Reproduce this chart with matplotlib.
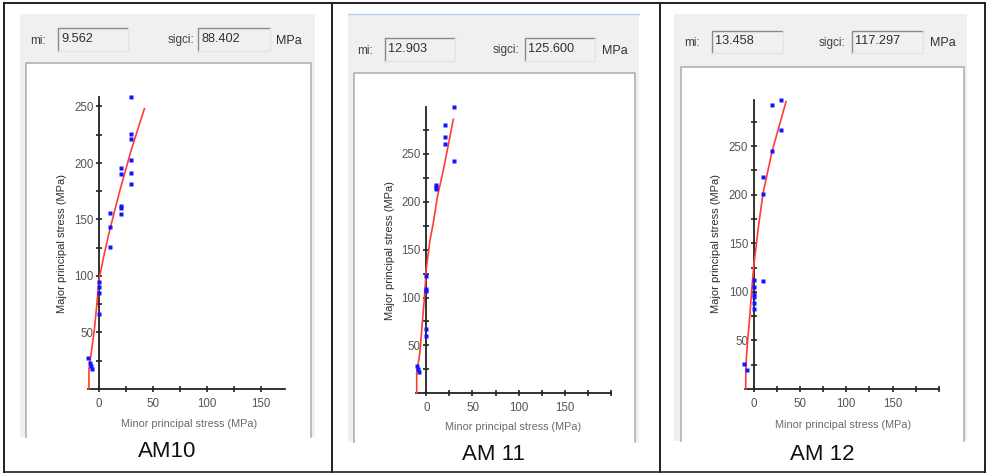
import matplotlib
matplotlib.use("Agg")
import matplotlib.pyplot as plt
from matplotlib.patches import Rectangle
from matplotlib.ticker import FixedLocator

plt.rcParams['font.family'] = ['Liberation Sans', 'DejaVu Sans']

# ---------------- data ----------------
captions = ["AM10", "AM 11", "AM 12"]
mi_values = ["9.562", "12.903", "13.458"]
sigci_values = ["88.402", "125.600", "117.297"]

am10_sig3 = [30, 30, 30, 30, 30, 30, 20, 20, 20, 20, 20, 10, 10, 10, 0, 0, 0, 0, -10.5, -8.5, -7, -6.5]
am10_sig1 = [258, 226, 221, 203, 191, 181, 196, 190, 162, 160, 155, 156, 143, 126, 95, 90, 85, 66, 27, 23, 20, 18]
am10_fit_sig3 = [-9.3, -9.3, -8, -6, -4, -2, 0, 5, 10, 20, 30, 42]
am10_fit_sig1 = [0, 17, 27, 40, 55, 75, 97, 120, 141, 178, 212, 248]

am11_sig3 = [30, 20, 20, 20, 30, 10, 10, 10, 0, 0, 0, 0, 0, -10.5, -9, -8]
am11_sig1 = [299, 280, 268, 260, 242, 217, 215, 213, 122, 109, 107, 67, 60, 29, 25, 22]
am11_fit_sig3 = [-10.4, -10.4, -9, -7, -5, -2, 0, 4, 7.6, 12, 18.4, 24, 29.2]
am11_fit_sig1 = [0, 22, 30, 42, 66, 100, 130, 160, 178, 205, 233, 260, 286]

am12_sig3 = [30, 20, 30, 20, 10, 10, 10, 0, 0, 0, 0, 0, 0, -10, -7.5]
am12_sig1 = [297, 292, 266, 245, 218, 201, 111, 112, 105, 98, 95, 88, 82, 26, 20]
am12_fit_sig3 = [-8.6, -8.6, -8, -6.5, -4, -2, 0, 5, 10, 20, 30, 34.9]
am12_fit_sig1 = [0, 12, 30, 50, 78, 103, 126, 166, 201, 245, 279, 295.6]

x_major = [0, 50, 100, 150]
y_major = [50, 100, 150, 200, 250]

# ---------------- layout (pixels) ----------------
W, H = 987, 473
fig = plt.figure(figsize=(W / 100, H / 100), dpi=100)
bg = fig.add_axes([0, 0, 1, 1])
bg.set_xlim(0, W)
bg.set_ylim(H, 0)
bg.axis('off')

# table borders
lc = '#202020'
bg.plot([4, 985], [3.5, 3.5], color=lc, lw=1.4)
bg.plot([4, 985], [471.5, 471.5], color=lc, lw=1.2)
for xx in [4, 332, 660, 985]:
    bg.plot([xx, xx], [3.5, 471.5], color=lc, lw=1.4)

panels = [
    dict(gray=(20, 14, 315, 437), box1=(58, 28, 128, 51), box2=(198, 28, 270, 51),
         mi_x=30, sig_x=194, mpa_x=276, plot=(26, 63, 311, 437),
         x0=99, sx=1.08, y0=389, sy=1.13, xb=(-10, 172), yb=(0, 258), xtmax=150, ytmax=250,
         ylab=(62, 243), xlab=(189, 424), cap=(167, 451),
         s3=am10_sig3, s1=am10_sig1, f3=am10_fit_sig3, f1=am10_fit_sig1),
    dict(gray=(348, 14, 639, 442), box1=(385, 38, 455, 61), box2=(525, 38, 595, 61),
         mi_x=357, sig_x=519, mpa_x=602, plot=(354, 73, 635, 442),
         x0=426.3, sx=0.924, y0=393.3, sy=0.958, xb=(-11, 200), yb=(0, 299), xtmax=200, ytmax=275,
         ylab=(390, 250), xlab=(513, 427), cap=(493, 454),
         s3=am11_sig3, s1=am11_sig1, f3=am11_fit_sig3, f1=am11_fit_sig1),
    dict(gray=(674, 14, 967, 441), box1=(712, 31, 783, 53), box2=(852, 31, 923, 53),
         mi_x=684, sig_x=845, mpa_x=930, plot=(681, 67, 964, 441),
         x0=753.7, sx=0.926, y0=389, sy=0.972, xb=(-9, 200), yb=(0, 297), xtmax=200, ytmax=275,
         ylab=(716, 243), xlab=(843, 425), cap=(822, 454),
         s3=am12_sig3, s1=am12_sig1, f3=am12_fit_sig3, f1=am12_fit_sig1),
]

txt_c = '#303030'
for i, p in enumerate(panels):
    gx0, gy0, gx1, gy1 = p['gray']
    bg.add_patch(Rectangle((gx0, gy0), gx1 - gx0, gy1 - gy0, facecolor='#f0f0f0', edgecolor='none'))
    if i == 1:
        bg.plot([gx0, gx1], [gy0, gy0], color='#b8d0ec', lw=1.0)
    # text boxes
    for key, val in (('box1', mi_values[i]), ('box2', sigci_values[i])):
        bx0, by0, bx1, by1 = p[key]
        bg.add_patch(Rectangle((bx0, by0), bx1 - bx0, by1 - by0, facecolor='#f0f0f0', edgecolor='none'))
        bg.plot([bx0, bx0, bx1], [by1, by0, by0], color='#8a8a8a', lw=1.0)
        bg.plot([bx0, bx1, bx1], [by1, by1, by0], color='#e4e4e4', lw=1.0)
        bg.text(bx0 + 3, (by0 + by1) / 2 - 1, val, fontsize=9.2, color=txt_c, ha='left', va='center')
    cy = (p['box1'][1] + p['box1'][3]) / 2 + 1
    bg.text(p['mi_x'], cy, "mi:", fontsize=8.5, color='#404040', ha='left', va='center')
    bg.text(p['sig_x'], cy, "sigci:", fontsize=8.5, color='#404040', ha='right', va='center')
    bg.text(p['mpa_x'], cy, "MPa", fontsize=9, color=txt_c, ha='left', va='center')
    # plot window
    px0, py0, px1, py1 = p['plot']
    bg.add_patch(Rectangle((px0, py0), px1 - px0, py1 - py0, facecolor='white', edgecolor='none'))
    bg.plot([px0, px0, px1, px1], [py1, py0, py0, py1], color='#b0b0b0', lw=1.2)
    # axis labels and caption
    bg.text(p['ylab'][0], p['ylab'][1], "Major principal stress (MPa)", fontsize=8, color='#2e2e2e',
            rotation=90, ha='center', va='center')
    bg.text(p['xlab'][0], p['xlab'][1], "Minor principal stress (MPa)", fontsize=7.8, color='#6a6a6a',
            ha='center', va='center')
    bg.text(p['cap'][0], p['cap'][1], captions[i], fontsize=16, color='#111111', ha='center', va='center')

    # data axes mapped to pixel geometry
    xlim = (-15, 205)
    ylim = (-6, 305)
    left = p['x0'] + xlim[0] * p['sx']
    width = (xlim[1] - xlim[0]) * p['sx']
    top = p['y0'] - ylim[1] * p['sy']
    height = (ylim[1] - ylim[0]) * p['sy']
    ax = fig.add_axes([left / W, (H - top - height) / H, width / W, height / H])
    ax.patch.set_alpha(0)
    ax.set_xlim(*xlim)
    ax.set_ylim(*ylim)
    for s in ('top', 'right'):
        ax.spines[s].set_visible(False)
    for s in ('left', 'bottom'):
        ax.spines[s].set_position(('data', 0))
        ax.spines[s].set_color('#222222')
        ax.spines[s].set_linewidth(1.3)
    ax.spines['bottom'].set_bounds(*p['xb'])
    ax.spines['left'].set_bounds(*p['yb'])
    ax.xaxis.set_major_locator(FixedLocator(x_major))
    ax.xaxis.set_minor_locator(FixedLocator([v for v in range(25, p['xtmax'] + 1, 25) if v not in x_major]))
    ax.yaxis.set_major_locator(FixedLocator(y_major))
    ax.yaxis.set_minor_locator(FixedLocator([v for v in range(25, p['ytmax'] + 1, 25) if v not in y_major]))
    ax.tick_params(which='both', direction='inout', length=5, width=1.2, color='#222222')
    ax.tick_params(axis='x', which='major', labelsize=8.3, labelcolor='#555555', pad=4)
    ax.tick_params(axis='y', which='major', labelsize=8.3, labelcolor='#555555', pad=1.5)

    ax.plot(p['f3'], p['f1'], color='#ff3b3b', lw=1.2, zorder=3)
    ax.plot(p['s3'], p['s1'], linestyle='none', marker='s', ms=3.4, color='#1414ff', mec='none', zorder=4)

fig.savefig("out.png", dpi=100)
